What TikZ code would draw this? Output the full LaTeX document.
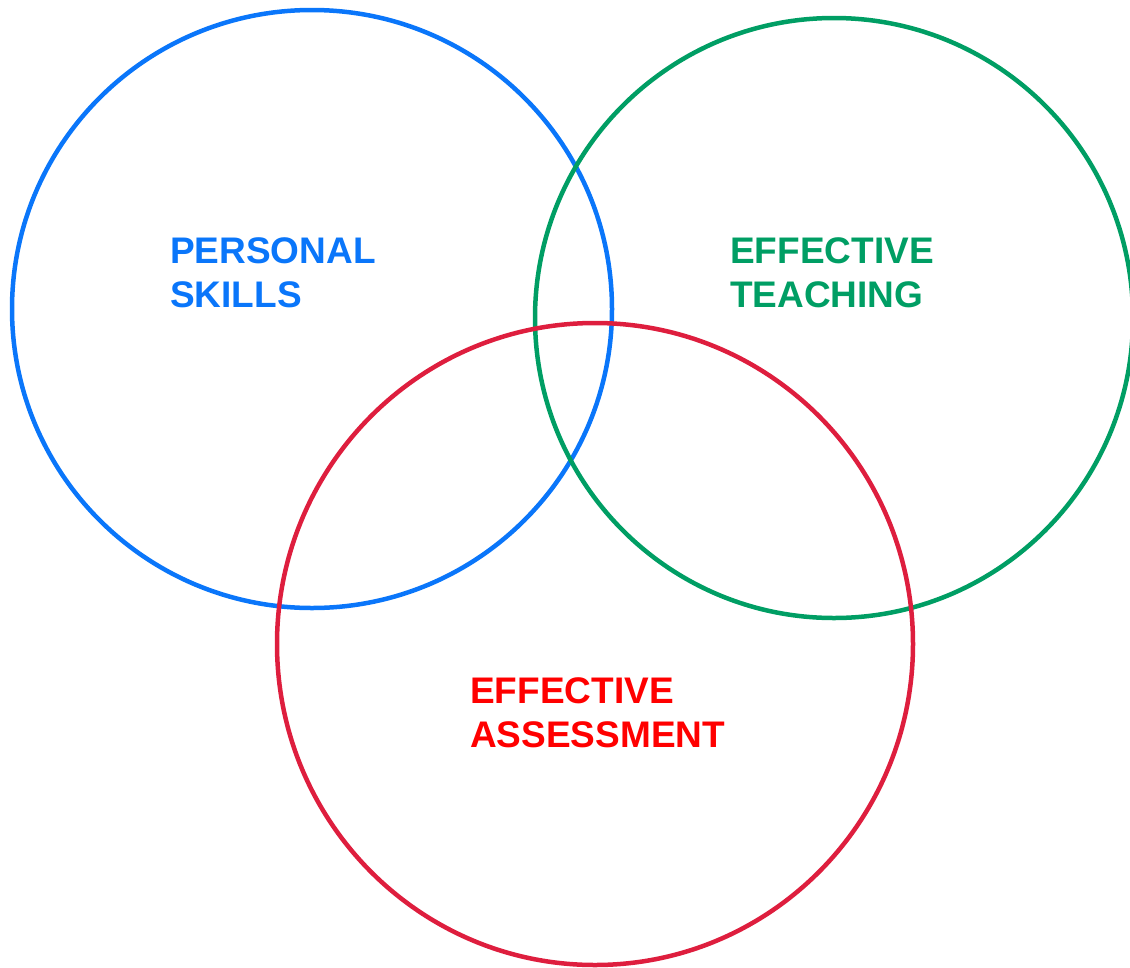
\documentclass[tikz,border=0pt]{standalone}
\usepackage{fontspec}
\setmainfont{Liberation Sans}
\definecolor{cblue}{RGB}{10,118,250}
\definecolor{cgreen}{RGB}{0,158,100}
\definecolor{cred}{RGB}{222,30,62}
\definecolor{tred}{RGB}{255,0,0}
\tikzset{
  ring/.style={line width=4.5pt},
  lbl/.style={anchor=base west, inner sep=0pt, font=\fontsize{37}{44}\selectfont\bfseries}
}
\begin{document}
\begin{tikzpicture}[x=1pt,y=-1pt]
\useasboundingbox (0,0) rectangle (1130,967);
\begin{scope}
\clip (0,0) rectangle (1130,967);
\draw[ring, cblue] (312,309) ellipse [x radius=300, y radius=299];
\draw[ring, cgreen] (834,318) ellipse [x radius=299, y radius=300];
\draw[ring, cred] (595,644) ellipse [x radius=318, y radius=321];
\end{scope}
\node[lbl, text=cblue] (ps1) at (170,263) {PERSONAL};
\node[lbl, text=cblue] (ps2) at (170,307) {SKILLS};
\node[lbl, text=cgreen] (et1) at (730,263) {EFFECTIVE};
\node[lbl, text=cgreen] (et2) at (730,307) {TEACHING};
\node[lbl, text=tred] (ea1) at (470,703) {EFFECTIVE};
\node[lbl, text=tred] (ea2) at (470,747) {ASSESSMENT};
\end{tikzpicture}
\end{document}
